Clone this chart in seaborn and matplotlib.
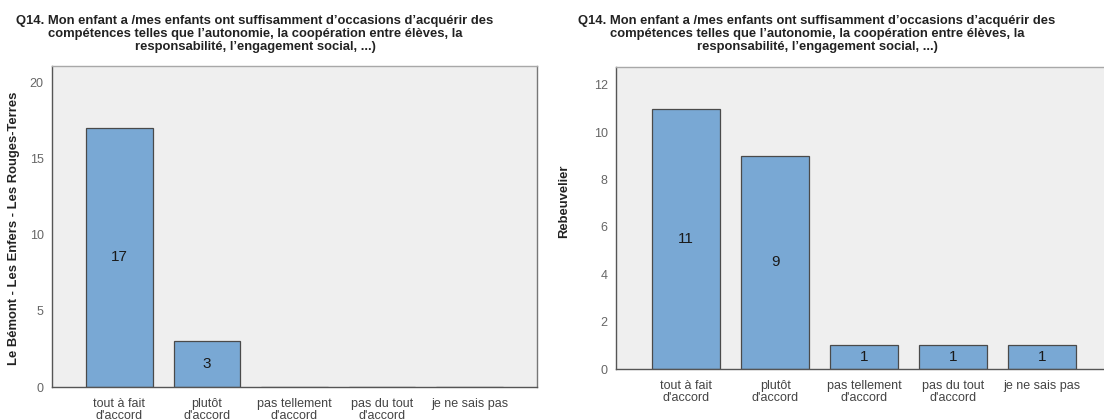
import matplotlib
matplotlib.use("Agg")
import matplotlib.pyplot as plt
import seaborn as sns

# data
categories = ["tout à fait\nd'accord", "plutôt\nd'accord", "pas tellement\nd'accord",
              "pas du tout\nd'accord", "je ne sais pas"]
counts_left = [17, 3, 0, 0, 0]
counts_right = [11, 9, 1, 1, 1]
left_yticks = [0, 5, 10, 15, 20]
right_yticks = [0, 2, 4, 6, 8, 10, 12]

title = ("Q14. Mon enfant a /mes enfants ont suffisamment d’occasions d’acquérir des\n"
         "compétences telles que l’autonomie, la coopération entre élèves, la\n"
         "responsabilité, l’engagement social, ...)")
ylabel_left = "Le Bémont - Les Enfers - Les Rouges-Terres"
ylabel_right = "Rebeuvelier"

sns.set_style("white")
plt.rcParams['font.family'] = ['Liberation Sans', 'DejaVu Sans']

bar_color = '#79a8d4'
edge_color = '#4a4a4a'
bg = '#efefef'

fig = plt.figure(figsize=(11.04, 4.19), dpi=100)
ax1 = fig.add_axes([52 / 1104, 32 / 419, 485 / 1104, 321 / 419])
ax2 = fig.add_axes([616 / 1104, 50 / 419, 500 / 1104, 302 / 419])


def draw_panel(ax, values, yticks, ylim, xlim):
    sns.barplot(x=categories, y=values, color=bar_color, edgecolor=edge_color,
                linewidth=0.9, width=0.76, saturation=1, ax=ax)
    ax.set_facecolor(bg)
    ax.set_ylim(0, ylim)
    ax.set_xlim(*xlim)
    ax.set_yticks(yticks)
    ax.tick_params(axis='both', colors='#555555', labelsize=9, length=5,
                   width=0.8, direction='out')
    ax.tick_params(axis='y', labelcolor='#666666', pad=1)
    ax.tick_params(axis='x', length=5, pad=3, labelcolor='#444444')
    for lab in ax.get_xticklabels():
        lab.set_linespacing(0.95)
    ax.spines['left'].set_color('#555555')
    ax.spines['bottom'].set_color('#555555')
    ax.spines['top'].set_color('#a8a8a8')
    ax.spines['right'].set_color('#777777')
    for sp in ax.spines.values():
        sp.set_linewidth(1.0)
    labels = [str(v) if v > 0 else '' for v in values]
    ax.bar_label(ax.containers[0], labels=labels, label_type='center',
                 fontsize=11, color='#1a1a1a')


draw_panel(ax1, counts_left, left_yticks, 21.05, (-0.77, 4.77))
draw_panel(ax2, counts_right, right_yticks, 12.76, (-0.79, 4.83))
ax2.spines['right'].set_visible(False)

for cx in (255, 817):
    fig.text(cx / 1104, 1 - 15 / 419, title, ha='center', va='top', fontsize=9.4,
             fontweight='bold', color='#222222', linespacing=1.12)
fig.text(14 / 1104, 1 - 228 / 419, ylabel_left, rotation=90, ha='center', va='center',
         fontsize=9.4, fontweight='bold', color='#222222')
fig.text(564 / 1104, 1 - 201 / 419, ylabel_right, rotation=90, ha='center', va='center',
         fontsize=9.4, fontweight='bold', color='#222222')

fig.savefig('out.png', dpi=100)
